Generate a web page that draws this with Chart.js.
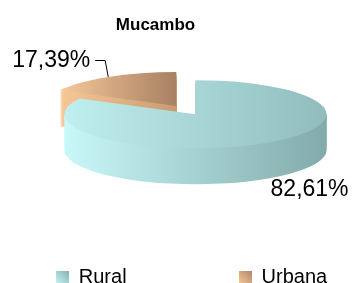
<!DOCTYPE html>
<html lang="pt">
<head>
<meta charset="UTF-8">
<title>Mucambo</title>
<style>
  body { margin: 0; background: #fff; }
  #chart-container { width: 353px; height: 283px; }
</style>
</head>
<body>
<div id="chart-container"><canvas id="myChart"></canvas></div>
<script src="https://cdn.jsdelivr.net/npm/chart.js"></script>
<script>
// data
const categories = ['Rural', 'Urbana'];
const shares = [82.61, 17.39];

// [light, dark] gradient ends for the top face and the walls of each slice
const topColors = [['#c0efef', '#90bcbc'], ['#f6c998', '#a88063']];
const sideColors = [['#c9f8f8', '#82aaaa'], ['#f7c797', '#c99b72']];
const legendColors = [['#c6f3f3', '#86b0b0'], ['#f6c898', '#b0866a']];

const FONT = "'Liberation Sans', Arial, sans-serif";
const fmt = v => v.toFixed(2).replace('.', ',') + '%';

// small gradient square used as legend marker
function swatch([c0, c1]) {
    const cv = document.createElement('canvas');
    cv.width = 13; cv.height = 13;
    const g = cv.getContext('2d');
    const gr = g.createLinearGradient(0, 13, 13, 0);
    gr.addColorStop(0, c0);
    gr.addColorStop(1, c1);
    g.fillStyle = gr;
    g.fillRect(0, 0, 13, 13);
    return cv;
}
const swatches = legendColors.map(swatch);

function wedge(ctx, r, a0, a1) {
    ctx.beginPath();
    ctx.moveTo(0, 0);
    ctx.arc(0, 0, r, a0, a1);
    ctx.closePath();
}

function xRange(r, a0, a1) {
    let lo = 0, hi = 0;
    for (let k = 0; k <= 60; k++) {
        const x = Math.cos(a0 + (a1 - a0) * k / 60) * r;
        lo = Math.min(lo, x); hi = Math.max(hi, x);
    }
    return [lo, hi];
}

// draws the pie as a tilted 3D disc, plus the percentage labels
const pie3d = {
    id: 'pie3d',
    beforeDatasetsDraw(chart, args, opts) {
        const ctx = chart.ctx;
        const {tilt, depth, drop} = opts;
        const slices = chart.getDatasetMeta(0).data.map((arc, i) => {
            const mid = (arc.startAngle + arc.endAngle) / 2;
            const off = arc.options.offset || 0;
            return {
                i, arc, mid,
                cx: arc.x + Math.cos(mid) * off,
                cy: arc.y + drop + Math.sin(mid) * off * tilt
            };
        });
        // back slices first
        slices.sort((a, b) => Math.sin(a.mid) - Math.sin(b.mid));

        slices.forEach(s => {
            const r = s.arc.outerRadius;
            const [lo, hi] = xRange(r, s.arc.startAngle, s.arc.endAngle);
            const side = ctx.createLinearGradient(lo, 0, hi, 0);
            side.addColorStop(0, sideColors[s.i][0]);
            side.addColorStop(1, sideColors[s.i][1]);
            const top = ctx.createLinearGradient(lo, 0, hi, 0);
            top.addColorStop(0, topColors[s.i][0]);
            top.addColorStop(1, topColors[s.i][1]);
            for (let d = depth; d >= 0; d--) {
                ctx.save();
                ctx.translate(s.cx, s.cy + d);
                ctx.scale(1, tilt);
                wedge(ctx, r, s.arc.startAngle, s.arc.endAngle);
                ctx.fillStyle = d === 0 ? top : side;
                ctx.fill();
                ctx.restore();
            }
        });

        ctx.save();
        ctx.font = '23px ' + FONT;
        ctx.fillStyle = '#000';
        ctx.strokeStyle = '#000';
        ctx.lineWidth = 1;
        ctx.textBaseline = 'middle';
        slices.forEach(s => {
            const r = s.arc.outerRadius;
            const px = s.cx + Math.cos(s.mid) * r;
            const py = s.cy + Math.sin(s.mid) * r * tilt;
            const dir = Math.cos(s.mid) < 0 ? -1 : 1;
            ctx.textAlign = dir < 0 ? 'right' : 'left';
            const text = fmt(shares[s.i]);
            if (Math.sin(s.mid) < 0) {
                const ly = Math.round(py - 17) + 0.5;
                ctx.beginPath();
                ctx.moveTo(px, py);
                ctx.lineTo(px + dir * 3, ly);
                ctx.lineTo(px + dir * 13, ly);
                ctx.stroke();
                ctx.fillText(text, px + dir * 18, py - 16);
            } else {
                ctx.fillText(text, px + dir * 7, py + depth + 10);
            }
        });
        ctx.restore();
        return false;
    }
};

// draw a layout box shifted sideways, without line wrapping
function nudge(box, dx) {
    const draw = box.draw;
    box.draw = function () {
        const c = this.ctx;
        c.save();
        c.translate(dx, 0);
        this.left -= 1000; this.right += 1000;
        draw.call(this);
        this.left += 1000; this.right -= 1000;
        c.restore();
    };
}

// keep both legend items on one row, spaced wide, close to the bottom;
// title sits left of the pie centre
const boxFit = {
    id: 'boxFit',
    beforeInit(chart, args, opts) {
        const legend = chart.legend;
        const fit = legend.fit;
        legend.fit = function () {
            const w = this.maxWidth;
            this.maxWidth = 2000;
            fit.call(this);
            this.maxWidth = w;
            this.width = w;
            this.height = this.options.labels.padding + 16;
        };
        nudge(legend, opts.legendShift);
        nudge(chart.titleBlock, opts.titleShift);
    }
};

const ctx = document.getElementById('myChart').getContext('2d');
new Chart(ctx, {
    type: 'pie',
    data: {
        labels: categories,
        datasets: [{
            data: shares,
            backgroundColor: legendColors.map(c => c[1]),
            borderWidth: 0,
            offset: [0, 37],
            radius: 131
        }]
    },
    options: {
        responsive: true,
        maintainAspectRatio: false,
        animation: false,
        events: [],
        layout: { padding: { left: 38 } },
        plugins: {
            title: {
                display: true,
                text: 'Mucambo',
                color: '#000',
                font: { size: 17, weight: 'bold', family: FONT },
                padding: { top: 15, bottom: 0 }
            },
            legend: {
                position: 'bottom',
                labels: {
                    usePointStyle: true,
                    boxWidth: 13,
                    boxHeight: 13,
                    padding: 112,
                    color: '#000',
                    font: { size: 20, family: FONT },
                    generateLabels(chart) {
                        const items = Chart.overrides.pie.plugins.legend.labels.generateLabels(chart);
                        items.forEach((it, i) => { it.pointStyle = swatches[i]; });
                        return items;
                    }
                }
            },
            tooltip: { enabled: false },
            pie3d: { tilt: 0.26, depth: 36, drop: 19 },
            boxFit: { legendShift: -4, titleShift: -40 }
        }
    },
    plugins: [pie3d, boxFit]
});
</script>
</body>
</html>
